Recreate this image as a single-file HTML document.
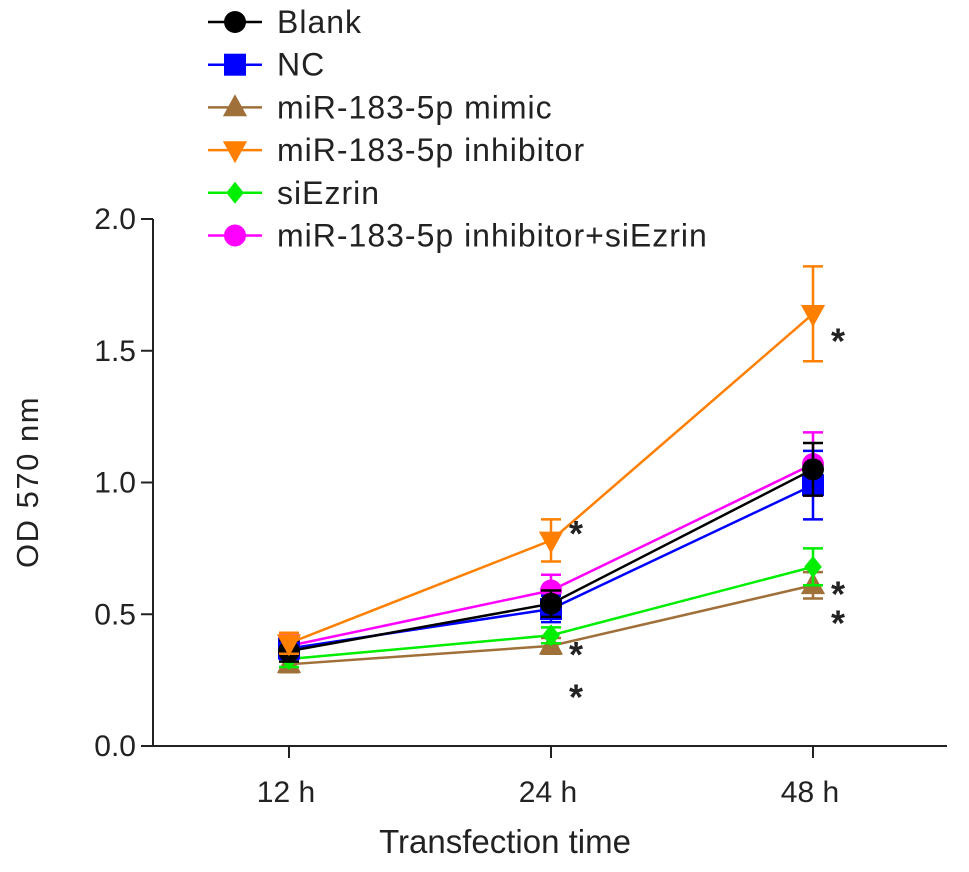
<!DOCTYPE html>
<html><head><meta charset="utf-8"><style>
body{margin:0;background:#fff}
svg text{font-family:"Liberation Sans",Arial,sans-serif;fill:#222}
</style></head><body>
<svg id="chart" width="969" height="867" viewBox="0 0 969 867" xmlns="http://www.w3.org/2000/svg">
<g id="axes"></g><g id="series"></g><g id="legend"></g>
</svg>
<script>
const categories = ["12 h","24 h","48 h"];
const yTicks = [0.0,0.5,1.0,1.5,2.0];
const seriesNames = ["Blank","NC","miR-183-5p mimic","miR-183-5p inhibitor","siEzrin","miR-183-5p inhibitor+siEzrin"];
const blankVals = [0.36,0.54,1.05];
const ncVals = [0.37,0.52,0.99];
const mimicVals = [0.31,0.38,0.61];
const inhibitorVals = [0.39,0.78,1.64];
const siEzrinVals = [0.33,0.42,0.68];
const comboVals = [0.38,0.59,1.07];
const blankErr = [0.04,0.05,0.10];
const ncErr = [0.04,0.05,0.13];
const mimicErr = [0.03,0.03,0.05];
const inhibitorErr = [0.04,0.08,0.18];
const siEzrinErr = [0.03,0.03,0.07];
const comboErr = [0.04,0.06,0.12];
const starCat = [1,2,1,1,2,2];
const starVals = [0.85,1.58,0.39,0.23,0.62,0.51];

const NS="http://www.w3.org/2000/svg";
const svg=document.getElementById('chart');
const xPos=i=>289+i*262;
const yPos=v=>746-v*263.5;
function mk(tag,attrs,parent){const e=document.createElementNS(NS,tag);for(const k in attrs)e.setAttribute(k,attrs[k]);parent.appendChild(e);return e;}
const axes=document.getElementById('axes');
let a=mk('line',{x1:153,y1:yPos(2),x2:153,y2:746,stroke:'#222','stroke-width':2},axes);


a=mk('line',{x1:152,y1:746,x2:947,y2:746,stroke:'#222','stroke-width':2},axes);


yTicks.forEach(t=>{
 mk('line',{x1:141,x2:153,y1:yPos(t),y2:yPos(t),stroke:'#222','stroke-width':2},axes);
 const tx=mk('text',{x:136,y:yPos(t)+10,'text-anchor':'end','font-size':30},axes);
 tx.textContent=t.toFixed(1);
 
 
});
categories.forEach((c,i)=>{
 mk('line',{x1:xPos(i),x2:xPos(i),y1:746,y2:758,stroke:'#222','stroke-width':2},axes);
 const tx=mk('text',{x:xPos(i)-3,y:802,'text-anchor':'middle','font-size':30},axes);
 tx.textContent=c;
 
 
});
let t=mk('text',{x:505,y:853,'text-anchor':'middle','font-size':33},axes);
t.textContent='Transfection time';


t=mk('text',{x:0,y:0,'text-anchor':'middle','font-size':31,'letter-spacing':1.5,transform:'translate(38,482) rotate(-90)'},axes);
t.textContent='OD 570 nm';



const colors=['#000000','#0000ff','#a0703a','#ff8000','#00ee00','#ff00ff'];
const shapes=['circle','square','tri','itri','diamond','circle'];
const vals=[blankVals,ncVals,mimicVals,inhibitorVals,siEzrinVals,comboVals];
const errs=[blankErr,ncErr,mimicErr,inhibitorErr,siEzrinErr,comboErr];
function marker(shape,x,y,col,g,r){
 if(shape==='circle')return mk('circle',{cx:x,cy:y,r:r,fill:col},g);
 if(shape==='square')return mk('rect',{x:x-r,y:y-r,width:2*r,height:2*r,fill:col},g);
 if(shape==='tri')return mk('polygon',{points:`${x},${y-r*1.2} ${x-r*1.1},${y+r*0.8} ${x+r*1.1},${y+r*0.8}`,fill:col},g);
 if(shape==='itri')return mk('polygon',{points:`${x},${y+r*1.2} ${x-r*1.1},${y-r*0.8} ${x+r*1.1},${y-r*0.8}`,fill:col},g);
 return mk('polygon',{points:`${x},${y-r} ${x+r*0.8},${y} ${x},${y+r} ${x-r*0.8},${y}`,fill:col},g);
}
const sg=document.getElementById('series');
const order=[2,4,5,1,0,3];
order.forEach(s=>{
 const g=mk('g',{},sg);
 
 
 const pts=vals[s].map((v,i)=>xPos(i)+','+yPos(v)).join(' ');
 mk('polyline',{points:pts,fill:'none',stroke:colors[s],'stroke-width':2.5},g);
 vals[s].forEach((v,i)=>{
  const x=xPos(i),e=errs[s][i];
  mk('path',{d:`M${x},${yPos(v+e)}V${yPos(v-e)}M${x-10},${yPos(v+e)}H${x+10}M${x-10},${yPos(v-e)}H${x+10}`,stroke:colors[s],'stroke-width':2.5,fill:'none'},g);
  const m=marker(shapes[s],x,yPos(v),colors[s],g,11);
  
  
 });
});
starCat.forEach((c,i)=>{
 const st=mk('text',{x:xPos(c)+25,y:yPos(starVals[i])+24,'text-anchor':'middle','font-size':36,'font-weight':'bold',fill:'#000'},sg);
 st.textContent='*';
 
 
});
const lg=document.getElementById('legend');
seriesNames.forEach((n,i)=>{
 const y=22+i*42.7;
 const g=mk('g',{},lg);
 
 
 mk('line',{x1:208,x2:262,y1:y,y2:y,stroke:colors[i],'stroke-width':2.5},g);
 marker(shapes[i],235,y,colors[i],g,11);
 const tx=mk('text',{x:277,y:y+11,'font-size':32,'letter-spacing':1},g);
 tx.textContent=n;
});
</script>
</body></html>
